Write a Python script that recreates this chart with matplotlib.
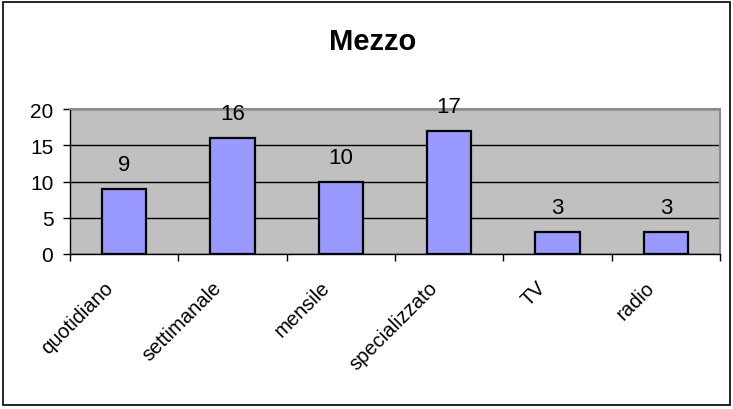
import matplotlib
matplotlib.use("Agg")
import matplotlib.pyplot as plt
from matplotlib.patches import Rectangle
from matplotlib.transforms import ScaledTranslation

categories = ["quotidiano", "settimanale", "mensile", "specializzato", "TV", "radio"]
values = [9, 16, 10, 17, 3, 3]
y_ticks = [0, 5, 10, 15, 20]
title = "Mezzo"

plt.rcParams["font.family"] = ["Liberation Sans", "DejaVu Sans"]

W, H = 733, 410
fig = plt.figure(figsize=(W / 100, H / 100), dpi=100)

# chart frame around the whole figure
fig.patches.append(Rectangle((3 / W, 4 / H), 727 / W, 403 / H, transform=fig.transFigure,
                             fill=False, edgecolor="black", linewidth=1.2))

ax = fig.add_axes([70 / W, (H - 255) / H, 650 / W, 145 / H])
ax.set_facecolor("#C0C0C0")

x = list(range(len(categories)))
ax.bar(x, values, width=0.41, color="#9999FF", edgecolor="black", linewidth=1.6, zorder=3)

for xi, v in zip(x, values):
    ax.annotate(str(v), (xi, v), xytext=(0, 10), textcoords="offset points",
                ha="center", va="bottom", fontsize=16, zorder=4, annotation_clip=False)

ax.set_xlim(-0.5, len(categories) - 0.5)
ax.set_ylim(0, 20)
ax.set_yticks(y_ticks)
ax.set_yticklabels([str(t) for t in y_ticks], fontsize=15)
ax.yaxis.grid(True, color="black", linewidth=1.0, zorder=1)
ax.set_axisbelow(True)

# category boundaries get the tick marks, labels sit at the centres
ax.set_xticks([i - 0.5 for i in range(len(categories) + 1)])
ax.set_xticklabels([])
ax.set_xticks(x, minor=True)
ax.set_xticklabels(categories, minor=True, rotation=45, ha="right",
                   rotation_mode="anchor", fontsize=14.5)
ax.tick_params(axis="x", which="minor", length=0, pad=17)
ax.tick_params(axis="x", which="major", direction="out", length=5, width=1)
ax.tick_params(axis="y", direction="out", length=5, width=1, pad=7)
shift = ScaledTranslation(-21 / 100, 0, fig.dpi_scale_trans)
for lab in ax.get_xticklabels(minor=True):
    lab.set_transform(lab.get_transform() + shift)

for side in ("top", "right"):
    ax.spines[side].set_color("#8C8C8C")
    ax.spines[side].set_linewidth(1.5)
for side in ("left", "bottom"):
    ax.spines[side].set_color("black")
    ax.spines[side].set_linewidth(1.0)

fig.text(373 / W, 1 - 42 / H, title, ha="center", va="center",
         fontsize=21, fontweight="bold")

fig.savefig("out.png", dpi=100)
